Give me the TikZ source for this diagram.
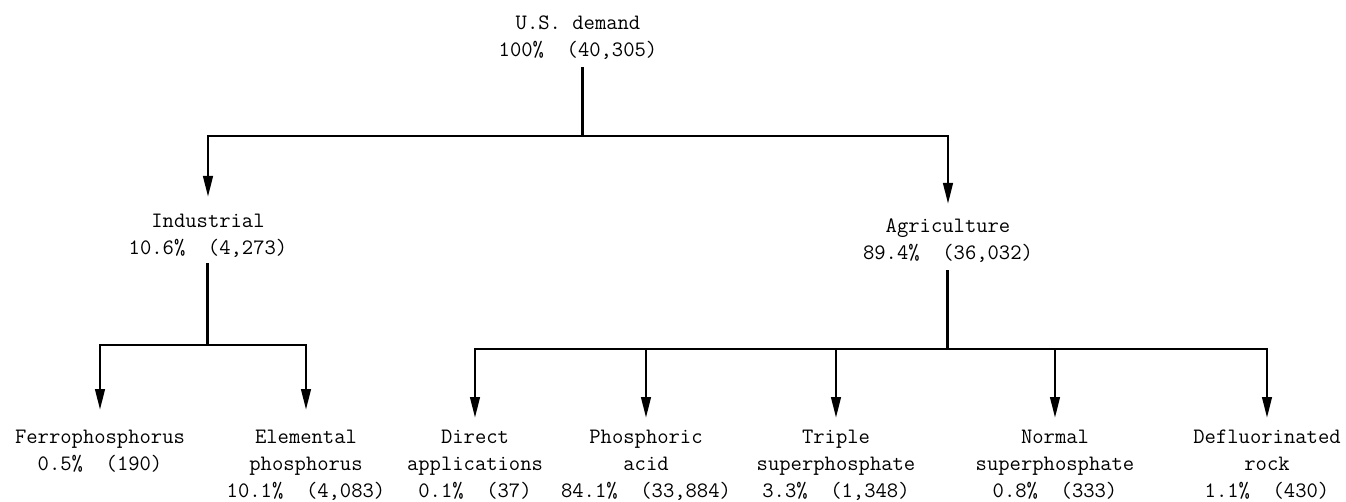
\documentclass[tikz,border=0pt]{standalone}
\usetikzlibrary{arrows.meta}
\begin{document}
\begin{tikzpicture}[x=1pt,y=-1pt,
  lbl/.style={anchor=north,inner sep=0pt,align=center,
    font=\fontsize{22}{27}\selectfont\ttfamily\frenchspacing},
  trunk/.style={line width=3pt},
  arr/.style={line width=2.7pt,-{Triangle[length=21pt,width=9.5pt]}},
]
\useasboundingbox (0,0) rectangle (1346,502);

% labels
\node[lbl] (root) at (578,10) {\strut U.S.~demand\\100\%~~(40,305)};
\node[lbl] (ind) at (208,208) {\strut Industrial\\10.6\%~~(4,273)};
\node[lbl] (agr) at (948,213) {\strut Agriculture\\89.4\%~~(36,032)};
\node[lbl] (fer) at (100,424) {\strut Ferrophosphorus\\0.5\%~~(190)};
\node[lbl] (ele) at (306,424) {\strut Elemental\\phosphorus\\10.1\%~~(4,083)};
\node[lbl] (dir) at (475,424) {\strut Direct\\applications\\0.1\%~~(37)};
\node[lbl] (pho) at (646,424) {\strut Phosphoric\\acid\\84.1\%~~(33,884)};
\node[lbl] (tri) at (836,424) {\strut Triple\\superphosphate\\3.3\%~~(1,348)};
\node[lbl] (nor) at (1055,424) {\strut Normal\\superphosphate\\0.8\%~~(333)};
\node[lbl] (def) at (1267,424) {\strut Defluorinated\\rock\\1.1\%~~(430)};

% junctions
\coordinate (j0) at (582,136);
\coordinate (j1) at (207,345);
\coordinate (j2) at (947,349);

% root level
\draw[trunk] (j0 |- root.south) ++(0,8) -- (j0);
\draw[arr] (j0) -| ([yshift=11pt]ind.north);
\draw[arr] (j0) -| ([yshift=9pt]agr.north);

% industrial
\draw[trunk] (j1 |- ind.south) ++(0,6) -- (j1);
\draw[arr] (j1) -| ([yshift=14pt]fer.north);
\draw[arr] (j1) -| ([yshift=14pt]ele.north);

% agriculture
\draw[trunk] (j2 |- agr.south) ++(0,8) -- (j2);
\draw[arr] (j2) -| ([yshift=6pt]dir.north);
\draw[arr] (j2) -| ([yshift=6pt]pho.north);
\draw[arr] (j2) -| ([yshift=6pt]tri.north);
\draw[arr] (j2) -| ([yshift=6pt]nor.north);
\draw[arr] (j2) -| ([yshift=6pt]def.north);
\end{tikzpicture}
\end{document}
